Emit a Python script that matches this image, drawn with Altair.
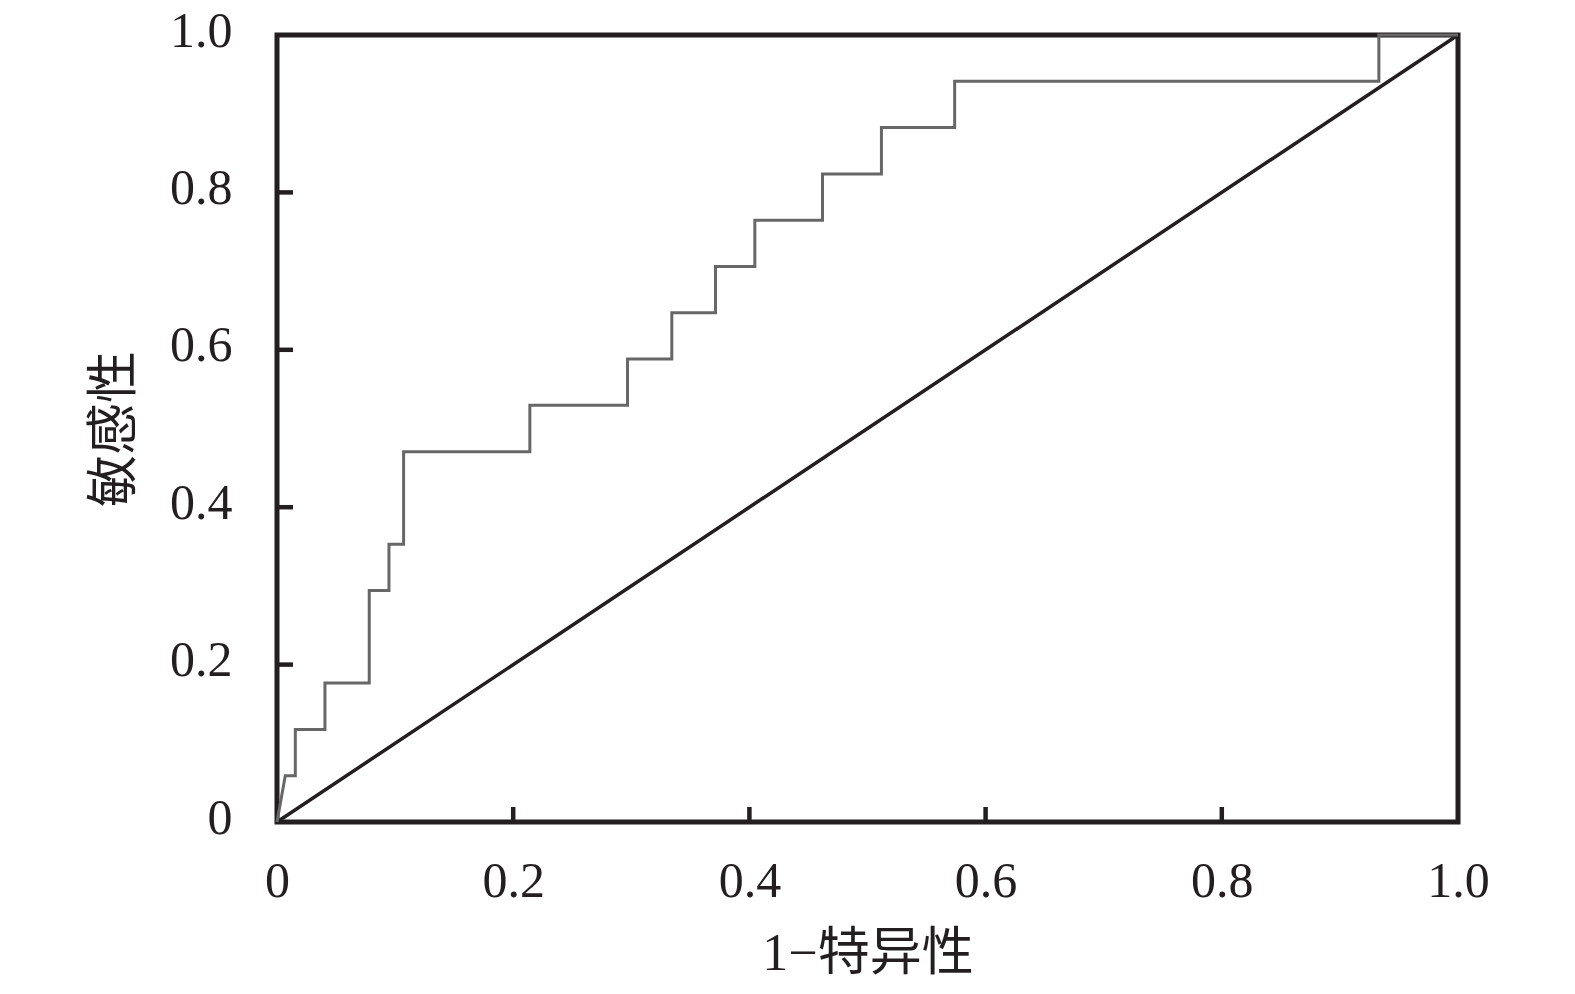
import altair as alt
import pandas as pd

# ROC curve corner points
roc_x = [0, 0.007, 0.0155, 0.0155, 0.0406, 0.0406, 0.0781, 0.0781, 0.0948, 0.0948,
         0.1072, 0.1072, 0.2141, 0.2141, 0.2968, 0.2968, 0.3343, 0.3343, 0.3713, 0.3713,
         0.4046, 0.4046, 0.4619, 0.4619, 0.5118, 0.5118, 0.5738, 0.5738, 0.933, 0.933, 1.0]
roc_y = [0, 0.0588, 0.0588, 0.1176, 0.1176, 0.1765, 0.1765, 0.2941, 0.2941, 0.3529,
         0.3529, 0.4706, 0.4706, 0.5294, 0.5294, 0.5882, 0.5882, 0.6471, 0.6471, 0.7059,
         0.7059, 0.7647, 0.7647, 0.8235, 0.8235, 0.8824, 0.8824, 0.9412, 0.9412, 1.0, 1.0]
diag_x = [0, 1]
diag_y = [0, 1]
tick_values = [0, 0.2, 0.4, 0.6, 0.8, 1.0]
inner_ticks = [0.2, 0.4, 0.6, 0.8]

W, H = 1181, 787
INK = "#231f20"

roc_df = pd.DataFrame({"x": roc_x, "y": roc_y, "i": list(range(len(roc_x)))})
diag_df = pd.DataFrame({"x": diag_x, "y": diag_y, "i": [0, 1]})
tick_df = pd.DataFrame({"v": inner_ticks})

label_expr = "datum.value == 0 ? '0' : format(datum.value, '.1f')"
xscale = alt.Scale(domain=[0, 1], nice=False, zero=True)
yscale = alt.Scale(domain=[0, 1], nice=False, zero=True)

xaxis = alt.Axis(values=tick_values, labelExpr=label_expr, ticks=False, tickSize=0,
                 domain=False, grid=False, labelPadding=34, labelFontSize=50,
                 labelFont="Liberation Serif", labelColor=INK, labelOverlap=False,
                 labelFlush=False, labelBound=False,
                 title="1−特异性", titleFont="Liberation Serif, Noto Sans CJK SC",
                 titleFontSize=52, titleFontWeight="normal", titleColor=INK,
                 titleX=W / 2, titleY=131, titleBaseline="middle", titleAnchor="middle")
yaxis = alt.Axis(values=tick_values, labelExpr=label_expr, ticks=False, tickSize=0,
                 domain=False, grid=False, labelPadding=45, labelFontSize=50,
                 labelFont="Liberation Serif", labelColor=INK, labelOverlap=False,
                 labelFlush=False, labelBound=False, labelOffset=-4,
                 title="敏感性", titleFont="Noto Sans CJK SC",
                 titleFontSize=52, titleFontWeight="normal", titleColor=INK,
                 titleX=-163, titleY=H / 2, titleAngle=-90, titleBaseline="middle",
                 titleAnchor="middle")

roc = alt.Chart(roc_df).mark_line(color="#676767", strokeWidth=3).encode(
    x=alt.X("x:Q", scale=xscale, axis=xaxis),
    y=alt.Y("y:Q", scale=yscale, axis=yaxis),
    order="i:Q",
)
diag = alt.Chart(diag_df).mark_line(color=INK, strokeWidth=3.5).encode(
    x=alt.X("x:Q", scale=xscale),
    y=alt.Y("y:Q", scale=yscale),
    order="i:Q",
)
xticks = alt.Chart(tick_df).mark_rule(color=INK, strokeWidth=4.5).encode(
    x=alt.X("v:Q", scale=xscale),
    y=alt.value(H),
    y2=alt.value(H - 15),
)
yticks = alt.Chart(tick_df).mark_rule(color=INK, strokeWidth=4.5).encode(
    y=alt.Y("v:Q", scale=yscale),
    x=alt.value(0),
    x2=alt.value(16),
)

chart = alt.layer(diag, roc, xticks, yticks).properties(
    width=W, height=H,
    autosize=alt.AutoSizeParams(type="none"),
    padding={"left": 269, "top": 27, "right": 100, "bottom": 160},
).configure(background="white").configure_view(stroke=INK, strokeWidth=5)

chart.save("out.html", embed_options={"renderer": "svg", "actions": False})
